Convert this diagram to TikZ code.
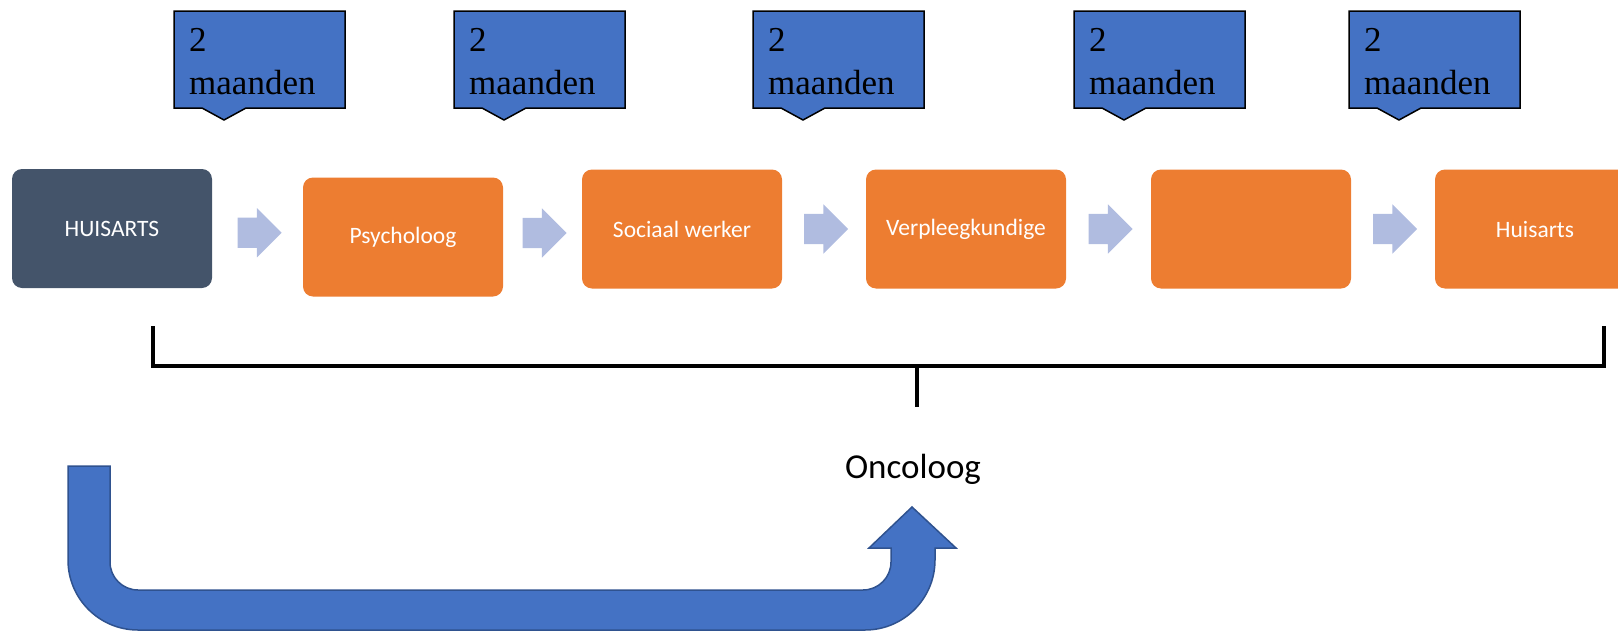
\documentclass[tikz,border=0pt]{standalone}
\usepackage{fontspec}
\setmainfont{Liberation Serif}
\newfontfamily\calibri{Carlito}
\usetikzlibrary{calc,shapes.arrows}
\definecolor{kaderblauw}{HTML}{4472C4}
\definecolor{randblauw}{HTML}{2F528F}
\definecolor{leioranje}{HTML}{ED7D31}
\definecolor{leigrijs}{HTML}{44546A}
\definecolor{pijlblauw}{HTML}{B0BCE0}

\begin{document}
\begin{tikzpicture}[
  x=1pt,y=-1pt,
  stap/.style={rounded corners=10pt,minimum width=200pt,minimum height=119pt,inner sep=0pt,
    text=white,font=\calibri\fontsize{23.5}{28}\selectfont},
  oranje/.style={stap,fill=leioranje},
  donker/.style={stap,fill=leigrijs},
  pijl/.style={single arrow,fill=pijlblauw,minimum height=44pt,minimum width=49pt,
    single arrow head extend=9.5pt,inner xsep=0pt,inner ysep=15pt,xshift=-5.5pt},
  wolk/.style={fill=kaderblauw,draw=black,line width=1.5pt},
  maand/.style={anchor=north west,align=left,inner xsep=15pt,inner ysep=17pt,
    font=\fontsize{35}{43}\selectfont},
  haak/.style={line width=4pt}
]
\path[use as bounding box,clip] (0,0) rectangle (1618,632);

% tijdsduur boven elke stap
\foreach \cx/\naam in {174/m1,454/m2,753/m3,1074/m4,1349/m5}{
  \filldraw[wolk] (\cx,11) -- ++(171,0) -- ++(0,97) -- ++(-99,0) -- ++(-22,12)
    -- ++(-22,-12) -- ++(-28,0) -- cycle;
  \node[maand] (\naam) at (\cx,11) {2\\maanden};
}

% de stappen
\node[donker] (huisarts) at (112,228.5) {HUISARTS};
\node[oranje] (psycholoog) at (403,237) {Psycholoog};
\node[oranje] (sociaal) at (682,229) {Sociaal werker};
\node[oranje] (verpleeg) at (966,229) {Verpleegkundige};
\node[oranje] (leeg) at (1251,229) {};
\node[oranje] (huisarts2) at (1535,229) {Huisarts};

\node[pijl] (p1) at ($(huisarts.east)!.5!(psycholoog.west)$) {};
\node[pijl] (p2) at ($(psycholoog.east)!.5!(sociaal.west)$) {};
\node[pijl] (p3) at ($(sociaal.east)!.5!(verpleeg.west)$) {};
\node[pijl] (p4) at ($(verpleeg.east)!.5!(leeg.west)$) {};
\node[pijl] (p5) at ($(leeg.east)!.5!(huisarts2.west)$) {};

% haak naar oncoloog
\coordinate (hl) at (153,326);
\coordinate (hr) at (1604,326);
\coordinate (hm) at (917,366);
\coordinate (hs) at (917,407);
\draw[haak] (hl) |- (hm) -| (hr);
\draw[haak] (hm) -- (hs);
\node[font=\calibri\fontsize{35}{42}\selectfont,anchor=base] (oncoloog) at (913,478) {Oncoloog};

% terugpijl
\filldraw[fill=kaderblauw,draw=randblauw,line width=1.5pt]
  (68,466) -- (68,560) arc[start angle=180,end angle=90,radius=70]
  -- (865,630) arc[start angle=90,end angle=0,radius=70]
  -- (935,548) -- (956,548) -- (912,507) -- (869,548) -- (891,548)
  -- (891,562) arc[start angle=0,end angle=90,radius=28]
  -- (138,590) arc[start angle=90,end angle=180,radius=28]
  -- (110,466) -- cycle;
\end{tikzpicture}
\end{document}
